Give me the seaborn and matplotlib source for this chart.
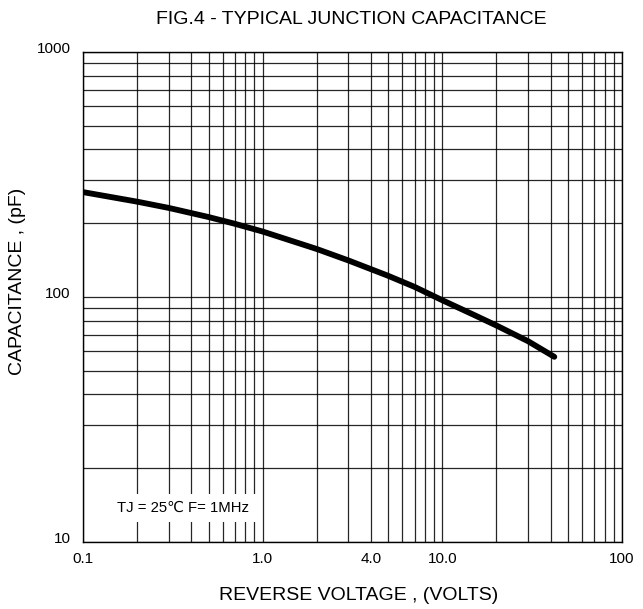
import numpy as np
import pandas as pd
import seaborn as sns
import matplotlib
matplotlib.use("Agg")
import matplotlib.pyplot as plt
from matplotlib.ticker import FixedLocator, FixedFormatter, NullFormatter
from matplotlib.transforms import ScaledTranslation

# Data
voltage = [0.1, 0.2, 0.3, 0.5, 0.7, 1.0, 2.0, 3.0, 5.0, 7.0, 10.0, 15.0, 20.0, 30.0, 42.0]
capacitance = [268, 245, 231, 212, 199, 185, 157, 141, 122, 110, 97, 84.5, 76.5, 66, 57]

x_ticks = [0.1, 1.0, 4.0, 10.0, 100]
x_tick_labels = ["0.1", "1.0", "4.0", "10.0", "100"]
y_ticks = [10, 100, 1000]
y_tick_labels = ["10", "100", "1000"]

title = "FIG.4 - TYPICAL JUNCTION CAPACITANCE"
xlabel = "REVERSE VOLTAGE , (VOLTS)"
ylabel = "CAPACITANCE , (pF)"
note = "TJ = 25\u2103 F= 1MHz"

df = pd.DataFrame({"V": voltage, "C": capacitance})

sns.set_theme(style="white")
plt.rcParams["font.family"] = ["Liberation Sans", "DejaVu Sans"]

W, H = 643, 609
fig = plt.figure(figsize=(W / 100, H / 100), dpi=100)
ax = fig.add_axes([83 / W, 1 - 542 / H, (622 - 83) / W, (542 - 52) / H])

sns.lineplot(data=df, x="V", y="C", ax=ax, color="black", linewidth=4.2,
             solid_capstyle="round", solid_joinstyle="round", zorder=5)

ax.set_xscale("log")
ax.set_yscale("log")
ax.set_xlim(0.1, 100)
ax.set_ylim(10, 1000)

minor_x = [m * d for d in (0.1, 1, 10) for m in range(2, 10)]
minor_y = [m * d for d in (10, 100) for m in range(2, 10)]
ax.xaxis.set_major_locator(FixedLocator(x_ticks))
ax.xaxis.set_major_formatter(FixedFormatter(x_tick_labels))
ax.xaxis.set_minor_locator(FixedLocator(minor_x))
ax.xaxis.set_minor_formatter(NullFormatter())
ax.yaxis.set_major_locator(FixedLocator(y_ticks))
ax.yaxis.set_major_formatter(FixedFormatter(y_tick_labels))
ax.yaxis.set_minor_locator(FixedLocator(minor_y))
ax.yaxis.set_minor_formatter(NullFormatter())

ax.grid(True, which="both", color="black", linewidth=0.9, alpha=0.85)
ax.tick_params(which="both", length=0)
ax.tick_params(axis="x", labelsize=11, pad=7, colors="black")
ax.tick_params(axis="y", labelsize=11, pad=9, colors="black")
for lab in ax.get_yticklabels():
    lab.set_transform(lab.get_transform() + ScaledTranslation(0, 3 / 72, fig.dpi_scale_trans))

for s in ax.spines.values():
    s.set_color("black")
    s.set_linewidth(1.0)

ax.set_xlabel("")
ax.set_ylabel("")
fig.text(351 / W, 1 - 19 / H, title, ha="center", va="center", fontsize=14, color="black")
fig.text(359 / W, 1 - 595 / H, xlabel, ha="center", va="center", fontsize=14, color="black")
fig.text(18 / W, 1 - 281 / H, ylabel, ha="center", va="center", rotation=90,
         fontsize=14, color="black")

ax.text(0.186, 0.069, note, transform=ax.transAxes, ha="center", va="center",
        fontsize=10.7, color="black", zorder=6,
        bbox=dict(facecolor="white", edgecolor="none", pad=5))

fig.savefig("out.png", dpi=100)
